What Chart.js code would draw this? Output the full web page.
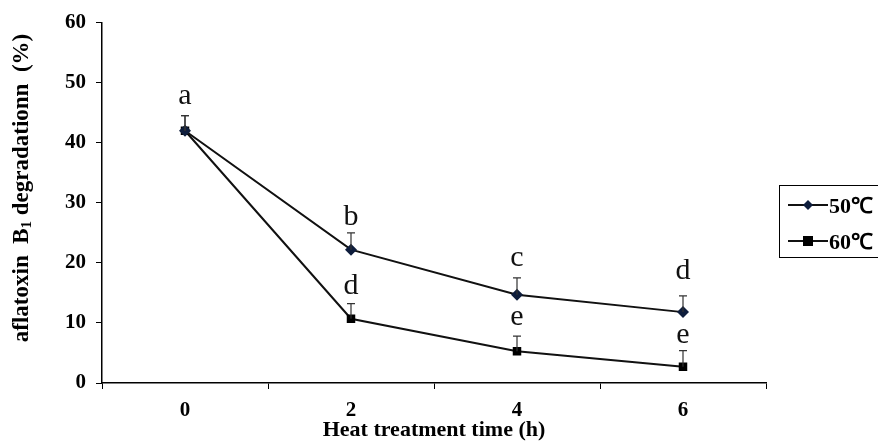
<!DOCTYPE html>
<html>
<head>
<meta charset="utf-8">
<script src="https://cdn.jsdelivr.net/npm/chart.js@4.4.1/dist/chart.umd.min.js"></script>
<style>
  html, body { margin: 0; padding: 0; background: #fff; }
  #wrap { position: relative; width: 878px; height: 443px; }
</style>
</head>
<body>
<div id="wrap"><canvas id="chart"></canvas></div>
<script>
// heat treatment time (h) and AFB1 degradation (%)
const hours = ['0', '2', '4', '6'];
const deg50 = [42.0, 22.2, 14.7, 11.8];
const deg60 = [42.0, 10.7, 5.3, 2.7];
const err50 = [2.5, 2.8, 2.8, 2.7];
const err60 = [2.5, 2.5, 2.5, 2.7];
const sig50 = ['a', 'b', 'c', 'd'];
const sig60 = ['', 'd', 'e', 'e'];
const seriesNames = ['50℃', '60℃'];

const SERIF = '"Liberation Serif", "Times New Roman", serif';

// upper error bars plus significance letters
const errorMarks = {
  id: 'errorMarks',
  afterDatasetsDraw(chart, args, opts) {
    const { ctx, scales: { x, y } } = chart;
    const sets = [[deg50, err50, sig50], [deg60, err60, sig60]];
    ctx.save();
    sets.forEach(([vals, errs, sig], s) => {
      vals.forEach((v, i) => {
        const px = x.getPixelForValue(i);
        const py = y.getPixelForValue(v);
        const top = y.getPixelForValue(v + errs[i]);
        ctx.strokeStyle = '#333';
        ctx.lineWidth = 1.2;
        ctx.beginPath();
        ctx.moveTo(px, py);
        ctx.lineTo(px, top);
        ctx.moveTo(px - 4, top);
        ctx.lineTo(px + 4, top);
        ctx.stroke();
        if (sig[i]) {
          ctx.fillStyle = '#111';
          ctx.font = '30px ' + SERIF;
          ctx.textAlign = 'center';
          ctx.textBaseline = 'alphabetic';
          ctx.fillText(sig[i], px, top - opts.gaps[s][i]);
        }
      });
    });
    ctx.restore();
  }
};

// rotated y title with a real subscript in B1
const yTitle = {
  id: 'yTitle',
  afterDraw(chart) {
    const { ctx } = chart;
    const main = 'bold 23px ' + SERIF;
    const sub = 'bold 15px ' + SERIF;
    const parts = [
      ['aflatoxin  B', main, 0],
      ['1', sub, 5],
      [' degradationn  (%)', main, 0]
    ];
    ctx.save();
    let total = 0;
    parts.forEach(([t, f]) => { ctx.font = f; total += ctx.measureText(t).width; });
    ctx.translate(22, 188);
    ctx.rotate(-Math.PI / 2);
    ctx.fillStyle = '#000';
    ctx.textAlign = 'left';
    ctx.textBaseline = 'middle';
    let cx = -total / 2;
    parts.forEach(([t, f, dy]) => {
      ctx.font = f;
      ctx.fillText(t, cx, dy);
      cx += ctx.measureText(t).width;
    });
    ctx.restore();
  }
};

// boxed legend on the right
const boxLegend = {
  id: 'boxLegend',
  afterDraw(chart) {
    const { ctx } = chart;
    ctx.save();
    ctx.strokeStyle = '#000';
    ctx.lineWidth = 1;
    ctx.strokeRect(779.5, 185.5, 130, 72);
    chart.data.datasets.forEach((ds, i) => {
      const cy = 205 + i * 36;
      ctx.strokeStyle = ds.borderColor;
      ctx.lineWidth = 2;
      ctx.beginPath();
      ctx.moveTo(788, cy);
      ctx.lineTo(828, cy);
      ctx.stroke();
      ctx.fillStyle = ds.pointBackgroundColor;
      ctx.beginPath();
      if (ds.pointStyle === 'rectRot') {
        ctx.moveTo(808, cy - 5);
        ctx.lineTo(813, cy);
        ctx.lineTo(808, cy + 5);
        ctx.lineTo(803, cy);
        ctx.closePath();
      } else {
        ctx.rect(803, cy - 5, 10, 10);
      }
      ctx.fill();
      ctx.fillStyle = '#000';
      ctx.font = 'bold 22px ' + SERIF;
      ctx.textAlign = 'left';
      ctx.textBaseline = 'middle';
      ctx.fillText(ds.label, 829, cy + 2);
    });
    ctx.restore();
  }
};

new Chart(document.getElementById('chart'), {
  type: 'line',
  data: {
    labels: hours,
    datasets: [
      {
        label: seriesNames[0],
        data: deg50,
        borderColor: '#111',
        borderWidth: 2,
        pointStyle: 'rectRot',
        pointRadius: 6,
        pointBackgroundColor: '#0e1d3c',
        pointBorderColor: '#0e1d3c',
        pointBorderWidth: 0,
        tension: 0
      },
      {
        label: seriesNames[1],
        data: deg60,
        borderColor: '#111',
        borderWidth: 2,
        pointStyle: 'rect',
        pointRadius: 6,
        pointBackgroundColor: '#000',
        pointBorderColor: '#000',
        pointBorderWidth: 0,
        tension: 0
      }
    ]
  },
  options: {
    responsive: true,
    maintainAspectRatio: false,
    animation: false,
    layout: { padding: { top: 22, right: 112, left: 0, bottom: 0 } },
    plugins: {
      legend: { display: false },
      tooltip: { enabled: false },
      // space between each cap and its letter, per series
      errorMarks: { gaps: [[12, 8, 12, 17], [12, 10, 11, 8]] }
    },
    scales: {
      x: {
        type: 'category',
        offset: true,
        afterFit(scale) { scale.height = 60; },
        grid: { offset: true, drawOnChartArea: false, drawTicks: true, tickLength: 6, color: '#000' },
        border: { color: '#000', width: 1.5 },
        ticks: { color: '#000', padding: 9, font: { family: SERIF, size: 21, weight: 'bold' } },
        title: {
          display: true,
          text: 'Heat treatment time (h)',
          color: '#000',
          padding: { top: 0, bottom: -1 },
          font: { family: SERIF, size: 22, weight: 'bold' }
        }
      },
      y: {
        min: 0,
        max: 60,
        afterFit(scale) { scale.width = 102; },
        grid: { drawOnChartArea: false, drawTicks: true, tickLength: 6, color: '#000' },
        border: { color: '#000', width: 1.5 },
        ticks: { stepSize: 10, color: '#000', padding: 10, font: { family: SERIF, size: 21, weight: 'bold' } },
        title: { display: false }
      }
    }
  },
  plugins: [errorMarks, yTitle, boxLegend]
});
</script>
</body>
</html>
